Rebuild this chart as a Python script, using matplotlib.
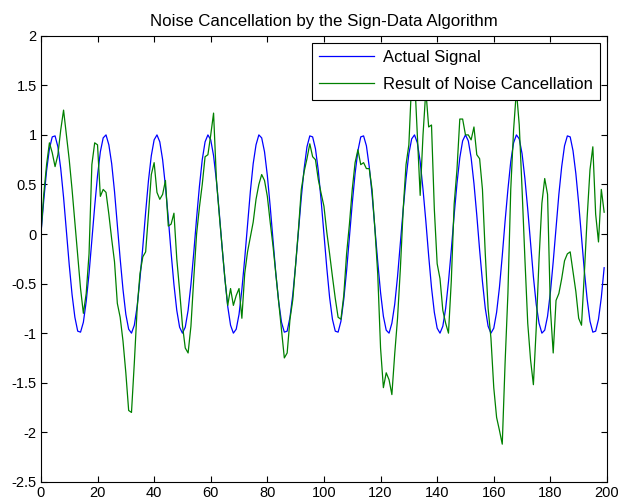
import numpy as np
import matplotlib
matplotlib.use("Agg")
import matplotlib.pyplot as plt

plt.rcParams['font.family'] = ['Liberation Sans', 'DejaVu Sans']
plt.rcParams['axes.unicode_minus'] = False

# sample index
n = np.arange(200)

# actual signal (blue)
actual = [
    0.00, 0.34, 0.64, 0.86, 0.98, 0.99, 0.88, 0.66, 0.37, 0.03,
    -0.31, -0.61, -0.84, -0.98, -0.99, -0.89, -0.68, -0.40, -0.06, 0.28,
    0.59, 0.83, 0.97, 1.00, 0.90, 0.71, 0.43, 0.09, -0.25, -0.56,
    -0.81, -0.96, -1.00, -0.92, -0.73, -0.45, -0.13, 0.22, 0.54, 0.79,
    0.95, 1.00, 0.93, 0.75, 0.48, 0.16, -0.19, -0.51, -0.77, -0.94,
    -1.00, -0.94, -0.77, -0.51, -0.19, 0.16, 0.48, 0.75, 0.93, 1.00,
    0.95, 0.79, 0.54, 0.22, -0.13, -0.45, -0.73, -0.92, -1.00, -0.96,
    -0.81, -0.56, -0.25, 0.09, 0.43, 0.71, 0.90, 1.00, 0.97, 0.83,
    0.59, 0.28, -0.06, -0.40, -0.68, -0.89, -0.99, -0.98, -0.84, -0.61,
    -0.31, 0.03, 0.37, 0.66, 0.88, 0.99, 0.98, 0.86, 0.64, 0.34,
    0.00, -0.34, -0.64, -0.86, -0.98, -0.99, -0.88, -0.66, -0.37, -0.03,
    0.31, 0.61, 0.84, 0.98, 0.99, 0.89, 0.68, 0.40, 0.06, -0.28,
    -0.59, -0.83, -0.97, -1.00, -0.90, -0.71, -0.43, -0.09, 0.25, 0.56,
    0.81, 0.96, 1.00, 0.92, 0.73, 0.45, 0.13, -0.22, -0.54, -0.79,
    -0.95, -1.00, -0.93, -0.75, -0.48, -0.16, 0.19, 0.51, 0.77, 0.94,
    1.00, 0.94, 0.77, 0.51, 0.19, -0.16, -0.48, -0.75, -0.93, -1.00,
    -0.95, -0.79, -0.54, -0.22, 0.13, 0.45, 0.73, 0.92, 1.00, 0.96,
    0.81, 0.56, 0.25, -0.09, -0.43, -0.71, -0.90, -1.00, -0.97, -0.83,
    -0.59, -0.28, 0.06, 0.40, 0.68, 0.89, 0.99, 0.98, 0.84, 0.61,
    0.31, -0.03, -0.37, -0.66, -0.88, -0.99, -0.98, -0.86, -0.64, -0.34,
]

# result of noise cancellation (green)
result = [
    0.00, 0.40, 0.70, 0.92, 0.82, 0.68, 0.80, 1.05, 1.25, 1.00,
    0.75, 0.45, 0.12, -0.20, -0.55, -0.80, -0.60, -0.20, 0.70, 0.92,
    0.90, 0.38, 0.45, 0.42, 0.20, -0.05, -0.28, -0.70, -0.84, -1.08,
    -1.40, -1.78, -1.80, -1.30, -0.75, -0.40, -0.23, -0.18, 0.20, 0.60,
    0.72, 0.42, 0.35, 0.40, 0.54, 0.08, 0.10, 0.21, -0.25, -0.57,
    -0.92, -1.15, -1.20, -0.93, -0.45, 0.00, 0.27, 0.50, 0.78, 0.80,
    1.00, 1.22, 0.55, 0.20, -0.12, -0.45, -0.72, -0.55, -0.72, -0.62,
    -0.55, -0.85, -0.40, -0.18, -0.03, 0.12, 0.35, 0.50, 0.60, 0.54,
    0.38, 0.12, -0.12, -0.40, -0.68, -0.95, -1.25, -1.20, -0.86, -0.66,
    -0.30, 0.05, 0.45, 0.63, 0.76, 0.91, 0.78, 0.75, 0.55, 0.41,
    0.28, 0.02, -0.20, -0.43, -0.65, -0.84, -0.86, -0.62, -0.20, 0.10,
    0.45, 0.72, 0.85, 0.70, 0.72, 0.66, 0.66, 0.45, 0.05, -0.40,
    -1.15, -1.55, -1.40, -1.47, -1.62, -1.21, -0.85, -0.35, 0.25, 0.70,
    0.90, 1.55, 1.60, 1.00, 0.39, 1.00, 1.45, 1.08, 1.10, 0.25,
    -0.30, -0.45, -0.77, -0.90, -1.00, -0.47, 0.30, 0.65, 1.16, 1.16,
    1.00, 1.00, 0.95, 1.08, 0.80, 0.76, 0.45, -0.20, -0.75, -1.05,
    -1.55, -1.85, -1.98, -2.12, -1.30, -0.60, 0.45, 1.05, 1.45, 1.10,
    0.45, -0.25, -0.90, -1.27, -1.52, -0.95, -0.25, 0.31, 0.56, 0.40,
    -0.75, -1.20, -0.67, -0.60, -0.45, -0.27, -0.20, -0.18, -0.38, -0.58,
    -0.85, -0.92, -0.40, 0.17, 0.65, 0.88, 0.20, -0.08, 0.45, 0.22,
]

x_ticks = np.arange(0, 201, 20)
y_ticks = np.arange(-2.5, 2.01, 0.5)

fig = plt.figure(figsize=(6.2, 5.04), dpi=100)
ax = fig.add_axes([0.066, 0.044, 0.913, 0.885])

ax.plot(n, actual, color=(0, 0, 1), lw=0.9, label='Actual Signal')
ax.plot(n, result, color=(0, 0.5, 0), lw=0.9, label='Result of Noise Cancellation')

ax.set_xlim(0, 200)
ax.set_ylim(-2.5, 2)
ax.set_xticks(x_ticks)
ax.set_yticks(y_ticks)
ax.set_yticklabels(['%g' % v for v in y_ticks])
ax.tick_params(direction='in', top=True, right=True, length=4, labelsize=10.5, pad=3)
for s in ax.spines.values():
    s.set_linewidth(0.8)

ax.set_title('Noise Cancellation by the Sign-Data Algorithm', fontsize=12.2, pad=7)

leg = ax.legend(loc='upper right', fontsize=12, fancybox=False, framealpha=1,
                edgecolor='black', borderaxespad=0.42, handlelength=3.3,
                borderpad=0.45, labelspacing=0.72, handletextpad=0.5)
leg.get_frame().set_linewidth(0.8)

fig.savefig('out.png', dpi=100)
